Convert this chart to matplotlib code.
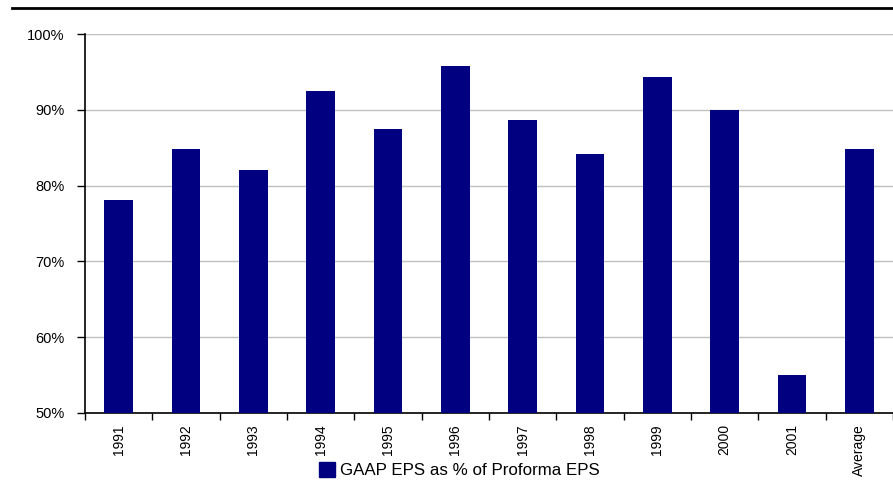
import matplotlib.pyplot as plt
from matplotlib.lines import Line2D
from matplotlib.patches import Patch

plt.rcParams['font.family'] = ['Liberation Sans', 'DejaVu Sans']

years = ['1991', '1992', '1993', '1994', '1995', '1996', '1997', '1998',
         '1999', '2000', '2001', 'Average']
ratio = [78.1, 84.8, 82.1, 92.5, 87.5, 95.8, 88.7, 84.2, 94.3, 90.0, 55.0, 84.8]

navy = '#000080'

fig = plt.figure(figsize=(8.93, 4.87), dpi=100)
ax = fig.add_axes([0.0952, 0.152, 0.9048, 0.778])

x = list(range(len(years)))
ax.bar(x, ratio, width=0.43, color=navy, zorder=3)

ax.set_xlim(-0.5, len(years) - 0.5)
ax.set_ylim(50, 100)
ax.set_yticks([50, 60, 70, 80, 90, 100])
ax.set_yticklabels([f'{v}%' for v in [50, 60, 70, 80, 90, 100]])
ax.yaxis.grid(True, color='#c0c0c0', linewidth=1.0, zorder=0)

# category labels centred, tick marks between categories
ax.set_xticks(x)
ax.set_xticklabels(years, rotation=90, fontsize=10)
ax.tick_params(axis='x', which='major', length=0, pad=8)
ax.set_xticks([i - 0.5 for i in range(len(years) + 1)], minor=True)
ax.tick_params(axis='x', which='minor', length=5, width=1, color='black')
ax.tick_params(axis='y', length=5.8, width=1, labelsize=10.5, pad=9)

for side in ['top', 'right']:
    ax.spines[side].set_visible(False)
ax.spines['left'].set_linewidth(1.2)
ax.spines['bottom'].set_linewidth(1.2)

# heavy rule across the top
fig.add_artist(Line2D([0.013, 1.0], [0.984, 0.984], color='black', linewidth=2,
                      transform=fig.transFigure))

fig.legend(handles=[Patch(color=navy, label='GAAP EPS as % of Proforma EPS')],
           loc='center', bbox_to_anchor=(0.514, 0.035), frameon=False,
           fontsize=12.2, handlelength=1.0, handleheight=1.0, handletextpad=0.25)

fig.savefig('out.png', dpi=100)
